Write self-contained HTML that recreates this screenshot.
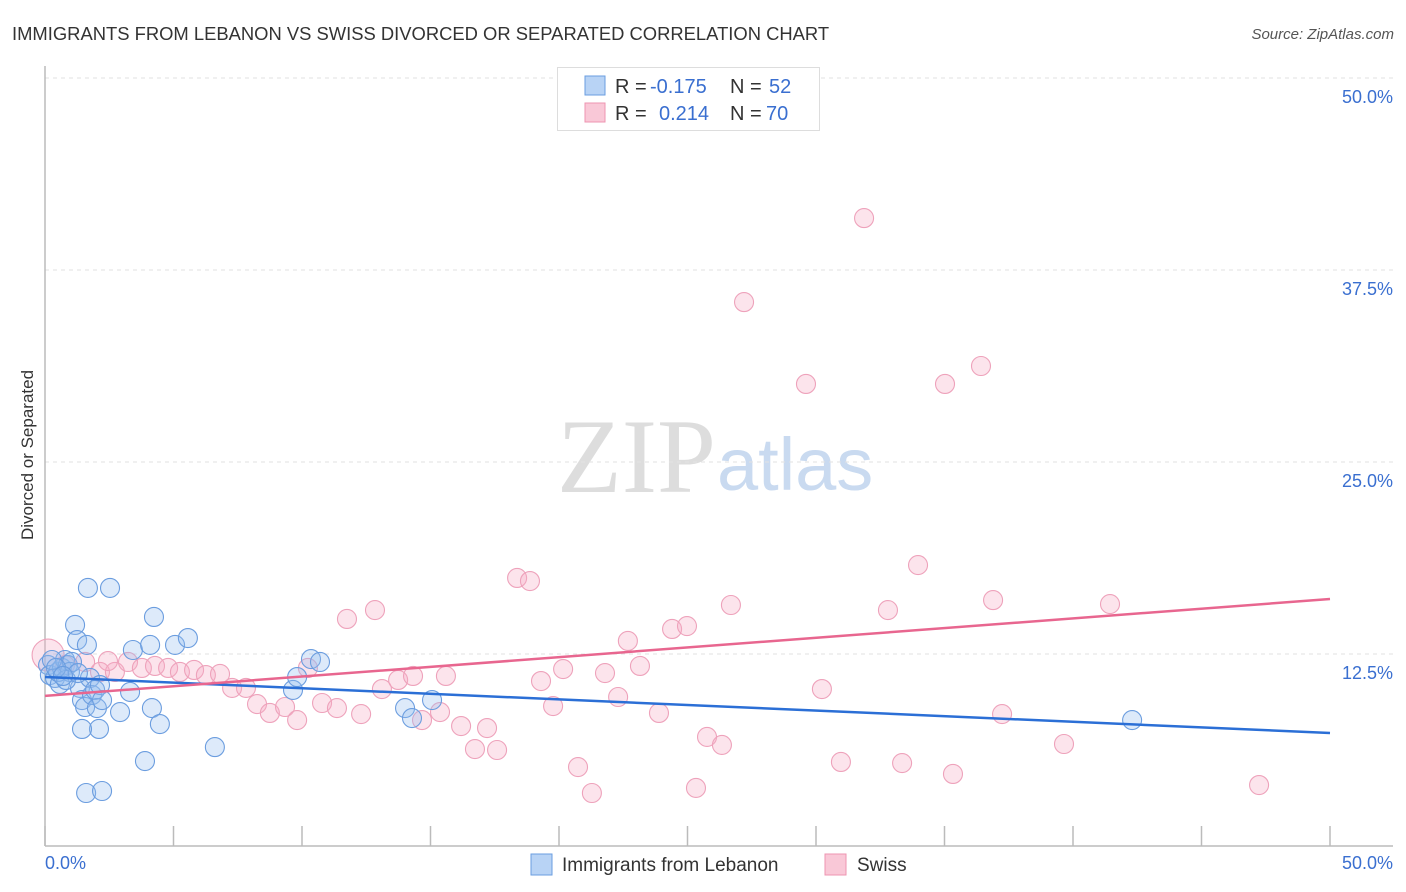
<!DOCTYPE html>
<html><head><meta charset="utf-8"><style>
body{margin:0;background:#fff;font-family:"Liberation Sans",sans-serif;}
#c{position:relative;width:1406px;height:892px;overflow:hidden;}
</style></head><body>
<div id="c">
<svg id="s" width="1406" height="892" xmlns="http://www.w3.org/2000/svg">
<text x="12" y="40" font-size="18.4" fill="#333">IMMIGRANTS FROM LEBANON VS SWISS DIVORCED OR SEPARATED CORRELATION CHART</text>
<text x="1394" y="39" font-size="15" fill="#555" font-style="italic" text-anchor="end">Source: ZipAtlas.com</text>
<text transform="translate(33,455) rotate(-90)" font-size="17" fill="#333" text-anchor="middle">Divorced or Separated</text>
<text x="716" y="492" font-size="106" fill="#ddd" text-anchor="end" font-family="Liberation Serif,serif">ZIP</text>
<text x="717" y="490" font-size="74" fill="#c9daf0">atlas</text>
<g id="grid"></g><g id="pts"></g><g id="lines"></g>
<g>
<rect x="557.5" y="67.5" width="262" height="63" fill="#fff" stroke="#ddd"/>
<rect x="585" y="76" width="20" height="19" fill="#b8d3f5" stroke="#6a9ee0"/>
<rect x="585" y="103" width="20" height="19" fill="#f9c8d7" stroke="#ee94b0"/>
<text x="615" y="93" font-size="20" fill="#333">R = </text><text x="650" y="93" font-size="20" fill="#3a6fd0">-0.175</text>
<text x="730" y="93" font-size="20" fill="#333">N = </text><text x="769" y="93" font-size="20" fill="#3a6fd0">52</text>
<text x="615" y="120" font-size="20" fill="#333">R = </text><text x="659" y="120" font-size="20" fill="#3a6fd0">0.214</text>
<text x="730" y="120" font-size="20" fill="#333">N = </text><text x="766" y="120" font-size="20" fill="#3a6fd0">70</text>
</g>
<g>
<rect x="531" y="854" width="21" height="21" fill="#b8d3f5" stroke="#6a9ee0"/>
<text x="562" y="871" font-size="19" fill="#333">Immigrants from Lebanon</text>
<rect x="825" y="854" width="21" height="21" fill="#f9c8d7" stroke="#ee94b0"/>
<text x="857" y="871" font-size="19" fill="#333">Swiss</text>
</g>
</svg></div>
<script>
const yTicks=[12.5,25,37.5,50];
const yTickLabels=["12.5%","25.0%","37.5%","50.0%"];
const blueX=[0.12,0.19,0.39,0.58,0.51,0.66,0.78,0.89,0.97,1.05,1.17,1.25,1.36,1.44,1.56,1.63,1.67,1.75,1.83,1.95,2.02,2.10,2.14,2.22,2.53,1.44,2.92,3.31,3.42,3.89,4.09,4.16,4.24,4.47,5.06,5.56,6.61,9.65,9.81,10.35,10.70,14.01,14.28,15.06,42.30,1.60,2.22,0.27,0.82,1.28,0.43,0.70];
const blueY=[11.78,11.13,10.94,10.55,11.33,11.59,12.11,11.78,11.33,11.98,14.39,13.41,10.29,9.50,9.05,13.09,16.80,10.94,9.83,10.16,8.98,7.62,10.48,9.50,16.80,7.62,8.72,10.03,12.76,5.53,13.09,8.98,14.91,7.94,13.09,13.54,6.44,10.16,11.00,12.17,11.98,8.98,8.33,9.50,8.20,3.45,3.58,12.11,10.81,11.26,11.59,11.07];
const pinkX=[0.12,0.78,1.56,2.14,2.72,3.23,3.77,4.28,4.79,5.25,5.80,6.26,6.81,7.28,7.82,8.25,8.75,9.34,9.81,10.23,10.78,11.36,11.75,12.30,12.84,13.11,13.74,14.32,14.67,15.37,15.60,16.19,16.73,17.20,17.59,18.37,18.87,19.30,19.77,20.16,20.74,21.28,21.79,22.30,22.68,23.15,23.89,24.40,24.98,25.33,25.76,26.34,26.69,27.20,29.61,30.23,30.97,31.87,32.80,33.35,33.97,35.02,35.33,36.42,36.89,37.24,39.65,41.44,47.24,2.45];
const pinkY=[12.43,11.78,11.98,11.33,11.33,11.98,11.59,11.72,11.59,11.33,11.46,11.13,11.20,10.29,10.29,9.24,8.66,9.05,8.20,11.59,9.31,8.98,14.78,8.59,15.36,10.22,10.81,11.07,8.20,8.72,11.07,7.81,6.31,7.68,6.25,17.45,17.25,10.74,9.11,11.52,5.14,3.45,11.26,9.70,13.35,11.72,8.66,14.13,14.32,3.78,7.10,6.58,15.69,35.41,30.08,10.22,5.47,40.88,15.36,5.40,18.29,30.08,4.69,31.25,16.01,8.59,6.64,15.75,3.97,12.04];
const blueTrend=[11.0,7.36];
const pinkTrend=[9.77,16.08];
const NS="http://www.w3.org/2000/svg";
const X=v=>45+v*(1285/50);
const Y=v=>846-v*15.36;
function mk(t,a,p){const e=document.createElementNS(NS,t);for(const k in a)e.setAttribute(k,a[k]);p.appendChild(e);return e;}
const grid=document.getElementById('grid');
yTicks.forEach((t,i)=>{
 const l=mk('line',{x1:45,x2:1393,y1:Y(t),y2:Y(t),stroke:'#e2e2e2','stroke-dasharray':'4,4'},grid);
 
 
 const tx=mk('text',{x:1393,y:Y(t)+25,'font-size':18,fill:'#3a6fd0','text-anchor':'end'},grid);
 tx.textContent=yTickLabels[i];
 
 
});
const ax=mk('line',{x1:45,x2:45,y1:66,y2:846,stroke:'#bbb','stroke-width':1.5},grid);


const bx=mk('line',{x1:45,x2:1393,y1:846,y2:846,stroke:'#bbb','stroke-width':1.5},grid);


for(let i=0;i<=10;i++){const tk=mk('line',{x1:X(i*5),x2:X(i*5),y1:826,y2:846,stroke:'#bbb','stroke-width':1.5},grid);
 
 }
const xl=mk('text',{x:45,y:869,'font-size':18,fill:'#3a6fd0'},grid);xl.textContent='0.0%';


const xr=mk('text',{x:1393,y:869,'font-size':18,fill:'#3a6fd0','text-anchor':'end'},grid);xr.textContent='50.0%';


const pts=document.getElementById('pts');
pinkX.forEach((x,i)=>{const c=mk('circle',{cx:X(x),cy:Y(pinkY[i]),r:i===0?16:9.5,fill:'rgba(245,170,195,0.32)',stroke:'#eea2bb','stroke-width':1.1},pts);
 
 });
blueX.forEach((x,i)=>{const c=mk('circle',{cx:X(x),cy:Y(blueY[i]),r:9.5,fill:'rgba(150,190,240,0.32)',stroke:'#6b9ddf','stroke-width':1.1},pts);
 
 });
const lines=document.getElementById('lines');
const bl=mk('line',{x1:X(0),y1:Y(blueTrend[0]),x2:X(50),y2:Y(blueTrend[1]),stroke:'#2b6fd6','stroke-width':2.5},lines);


const pl=mk('line',{x1:X(0),y1:Y(pinkTrend[0]),x2:X(50),y2:Y(pinkTrend[1]),stroke:'#e8668f','stroke-width':2.5},lines);


</script>
</body></html>
